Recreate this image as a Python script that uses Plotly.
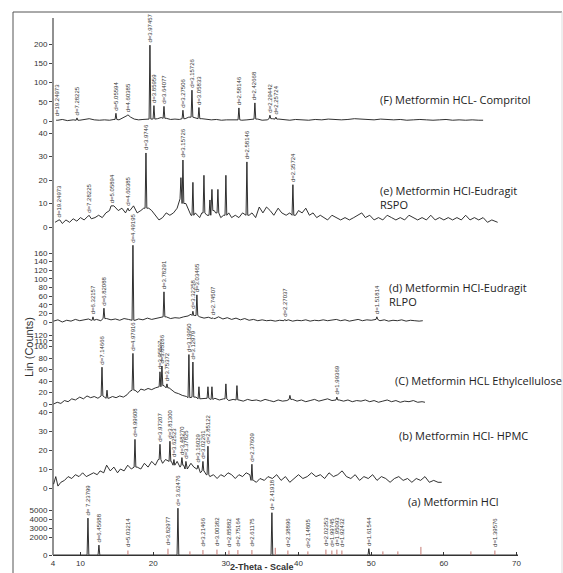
import plotly.graph_objects as go

# ---------------- data (2-theta, intensity) ----------------
# (F) Metformin HCL - Compritol
F_base = [(6.8,2),(7.5,4),(8.2,1),(9.0,3),(9.9,2),(10.6,4),(11.2,6),(11.9,3),(12.6,2),(13.3,3),
          (14.0,2),(14.6,4),(15.3,3),(15.9,8),(16.4,14),(16.9,10),(17.4,5),(18.0,3),(18.6,4),(19.2,6),
          (19.9,5),(20.6,6),(21.1,9),(21.8,7),(22.4,4),(23.0,5),(23.6,4),(24.4,6),(24.9,10),(25.8,8),
          (26.7,6),(27.3,4),(28.0,3),(28.7,4),(29.4,2),(30.1,3),(30.8,2),(31.4,3),(32.2,2),(32.9,3),
          (33.5,4),(34.4,5),(35.0,2),(35.7,3),(36.4,6),(37.3,5),(38.0,3),(38.8,2),(39.6,4),(40.5,3),
          (41.4,2),(42.3,4),(43.2,3),(44.1,5),(45.0,4),(45.9,3),(46.8,4),(47.7,6),(48.6,5),(49.5,4),
          (50.4,3),(51.3,5),(52.2,4),(53.1,3),(54.0,4),(54.9,2),(55.8,3),(56.7,4),(57.6,3),(58.5,2),
          (59.4,3),(60.3,4),(61.2,2),(62.1,3),(63.0,2),(63.9,3),(64.8,2),(65.4,2)]
F_peaks = [(6.77,3,"d=19.24973"),(9.52,8,"d=7.28225"),(14.88,20,"d=5.05594"),(16.53,16,"d=4.60385"),
           (19.56,197,"d=3.97457"),(20.11,40,"d=3.85959"),(21.49,38,"d=3.64077"),(24.10,28,"d=3.27506"),
           (25.34,80,"d=3.15726"),(26.30,35,"d=3.05833"),(31.80,34,"d=2.58146"),(34.00,47,"d=2.42668"),
           (36.07,15,"d=2.29442"),(36.89,10,"d=2.25724")]

# (e) Metformin HCl - Eudragit RSPO
E_base = [(6.5,2),(7.0,3),(7.5,1.5),(8.0,3),(8.5,2),(9.0,3.5),(9.5,2.5),(10.0,4),(10.5,3),(11.0,4.5),
          (11.5,3.5),(12.0,4),(12.5,5),(13.0,4),(13.5,6),(14.0,7),(14.6,9),(15.2,7),(15.7,8),(16.2,6),
          (16.8,7),(17.3,9),(17.8,6),(18.3,7),(18.7,8),(19.4,8),(19.8,7),(20.3,5),(20.8,3),(21.3,4),
          (21.8,6),(22.3,5),(22.8,6),(23.3,8),(23.6,12),(24.5,10),(24.9,7),(25.2,5),(25.8,6),(26.4,4),
          (26.7,6),(27.4,5),(28.4,7),(28.6,6),(29.3,4),(29.7,5),(30.4,6),(30.8,4),(31.3,5),(31.8,4),
          (32.3,6),(33.2,5),(33.6,6),(34.1,4),(34.6,8.5),(35.1,6),(35.6,8.5),(36.1,7),(36.6,5),(37.2,8),
          (37.7,6),(38.3,5),(38.8,6),(39.6,5),(40.0,7),(40.5,6),(41.0,8),(41.5,5),(42.0,6),(42.5,4),
          (43.0,5),(43.5,4),(44.0,3),(44.6,5),(45.2,4),(45.8,3),(46.4,4),(47.0,3),(47.6,4),(48.2,5),
          (48.7,6),(49.2,4),(49.8,5),(50.4,3),(51.0,4),(51.6,3),(52.2,5),(52.8,4),(53.4,3),(54.0,4),
          (54.6,3),(55.2,5),(55.8,4),(56.4,3),(57.0,4),(57.6,3),(58.2,5),(58.8,3),(59.4,4),(60.0,3),
          (60.6,4),(61.2,3),(61.8,4),(62.4,3),(63.0,5),(63.6,3),(64.2,4),(64.8,3),(65.4,4),(66.0,2),
          (66.6,3),(67.4,2)]
E_peaks = [(7.04,3,"d=19.24973"),(11.17,5,"d=7.28225"),(14.33,9,"d=5.05894"),(16.53,8,"d=4.60385"),
           (19.01,31.5,"d=3.9746"),(23.82,21,""),(24.10,28.5,"d=3.15726"),(25.47,19,""),(26.99,22,""),
           (27.81,11.5,""),(28.09,16,""),(28.91,16,""),(30.01,22,""),(32.90,27.7,"d=2.58146"),
           (39.23,18,"d=2.35724")]

# (d) Metformin HCl - Eudragit RLPO
D_base = [(6.3,2),(6.9,5),(7.5,0),(8.1,4),(8.7,2),(9.3,6),(9.9,3),(10.5,5),(11.1,7),(11.5,4),
          (12.2,6),(12.8,3),(13.6,8),(14.2,5),(14.8,7),(15.4,4),(16.0,8),(16.6,6),(17.5,4),(18.0,7),
          (18.6,5),(19.2,9),(19.8,6),(20.4,8),(21.0,10),(21.8,12),(22.4,8),(23.0,10),(23.6,9),(24.2,12),
          (24.8,14),(25.2,18),(25.7,15),(26.4,12),(27.0,9),(27.6,11),(28.5,8),(29.0,12),(29.6,7),(30.2,10),
          (30.8,6),(31.4,9),(32.0,5),(32.6,8),(33.2,4),(33.8,6),(34.4,3),(35.0,5),(35.6,3),(36.2,4),
          (36.8,2),(37.4,4),(38.0,3),(38.6,5),(39.2,2),(39.8,4),(40.4,3),(41.0,5),(41.6,2),(42.2,4),
          (42.8,3),(43.4,5),(44.0,3),(44.6,4),(45.2,6),(45.8,3),(46.4,5),(47.0,2),(47.6,4),(48.2,6),
          (48.8,3),(49.4,5),(50.0,4),(50.5,6),(51.2,3),(51.8,5),(52.4,2),(53.0,4),(53.6,3),(54.2,5),
          (54.8,2),(55.4,4),(56.0,3),(56.6,2),(57.1,3)]
D_peaks = [(11.72,12,"d=6.32157"),(13.23,32,"d=6.82088"),(17.22,178,"d=4.49195"),(21.49,70,"d=3.78291"),
           (25.47,25,"d=3.32258"),(26.02,63,"d=3.03465"),(28.23,10,"d=2.74507"),(38.13,6,"d=2.27037"),
           (50.78,12,"d=1.51814")]

# (C) Metformin HCL Ethylcellulose
C_base = [(6.3,0),(6.8,3),(7.3,1),(7.8,6),(8.3,4),(8.8,9),(9.3,7),(9.9,12),(10.4,9),(10.9,14),
          (11.4,11),(11.9,13),(12.4,10),(12.7,14),(13.3,12),(13.9,10),(14.4,13),(14.9,11),(15.4,14),(15.9,12),
          (16.4,16),(16.8,22),(17.5,24),(17.9,20),(18.3,26),(18.8,24),(19.3,27),(19.8,25),(20.3,28),(20.7,30),
          (21.5,32),(22.2,28),(22.6,24),(23.0,20),(23.5,18),(24.0,15),(24.6,13),(25.0,11),(25.9,12),(26.6,9),
          (27.2,10),(27.9,8),(28.5,10),(29.1,7),(29.7,9),(30.4,6),(31.0,8),(31.8,7),(32.4,5),(33.0,8),
          (33.6,6),(34.2,7),(34.8,5),(35.4,8),(36.0,6),(36.6,4),(37.2,7),(37.8,5),(38.4,6),(39.2,8),
          (39.8,5),(40.4,7),(41.0,4),(41.6,6),(42.2,8),(42.8,5),(43.4,7),(44.0,9),(44.6,6),(45.6,7),
          (46.2,5),(46.8,7),(47.4,4),(48.0,6),(48.6,5),(49.2,7),(49.8,4),(50.4,6),(51.0,3),(51.6,5),
          (52.2,7),(52.8,4),(53.4,6),(54.0,3),(54.6,5),(55.2,4),(55.8,6),(56.4,3),(57.0,4),(57.4,3)]
C_peaks = [(12.96,64,"d=7.14666"),(13.65,24,""),(17.22,88,"d=4.97916"),(20.94,56,"d=3.95537"),
           (21.21,66,"d=3.85186"),(21.90,35,"d=3.75372"),(24.92,86,"d=3.19950"),(25.47,73,"d=3.12979"),
           (26.30,30,""),(27.54,30,""),(28.09,30,""),(30.01,35,""),(31.53,32,""),(38.82,15,""),
           (45.28,12,"d=1.99369")]

# (b) Metformin HCl - HPMC
B_base = [(6.3,2),(6.6,6),(6.9,1),(7.3,3),(7.8,4),(8.3,6),(8.8,5),(9.3,7),(9.8,6),(10.3,8),
          (10.8,6),(11.3,7),(11.8,8),(12.3,7),(12.7,9),(13.2,8),(13.6,12),(14.1,9),(14.6,11),(15.1,8),
          (15.5,10),(16.0,9),(16.5,12),(17.0,10),(17.8,11),(18.3,10),(18.8,13),(19.3,11),(19.8,14),(20.3,12),
          (20.7,15),(21.3,13),(21.7,15),(22.5,14),(23.0,12),(23.3,14),(23.7,11),(24.2,12),(24.7,10),(25.2,13),
          (25.6,11),(26.0,10),(26.5,8),(27.0,9),(27.3,7),(27.8,6),(28.3,7),(28.8,5),(29.3,7),(29.8,6),
          (30.3,8),(30.8,7),(31.3,5),(31.8,7),(32.3,6),(32.8,8),(33.3,7),(33.8,4),(34.2,3),(34.7,5),
          (35.3,4),(35.8,6),(36.4,5),(37.0,7),(37.6,4),(38.2,6),(38.8,3),(39.4,5),(40.0,7),(40.6,5),
          (41.2,6),(41.8,8),(42.4,6),(43.0,7),(43.6,5),(44.2,8),(44.8,6),(45.4,7),(46.0,9),(46.6,6),
          (47.2,5),(47.8,7),(48.4,4),(49.0,6),(49.6,5),(50.2,7),(50.8,4),(51.4,6),(52.0,5),(52.6,3),
          (53.2,5),(53.8,6),(54.4,4),(55.0,5),(55.6,3),(56.2,5),(56.8,4),(57.4,6),(58.0,3),(58.6,4),
          (59.2,3),(59.7,3)]
B_peaks = [(17.50,25.6,"d=4.99608"),(20.94,23,"d=3.97207"),(22.31,24.6,"d=3.81300"),(22.86,15,"d=3.62523"),
           (23.96,16,"d=3.48270"),(24.51,14,"d=3.37825"),(26.16,12,"d=3.16029"),(26.85,14,"d=3.02261"),
           (27.54,22,"d=2.85122"),(33.59,12.5,"d=2.37609")]

# (a) Metformin HCl (reference pattern)
A_base = [(6.3,0),(70.2,0)]
A_peaks = [(11.03,4100,"d= 7.23799"),(12.54,1100,"d=6.45688"),(23.41,5200,"d= 3.62476"),
           (36.34,4700,"d= 2.41918"),(49.68,700,"d=1.61544")]
A_sticks = [(16.53,500,"d=5.03214"),(22.04,700,"d=3.82977"),(25.06,400,""),(26.85,550,"d=3.21466"),
            (28.78,600,"d=3.00382"),(30.43,500,"d=2.85882"),(31.66,550,"d=2.75164"),(33.59,550,"d=2.61175"),
            (36.80,800,""),(38.54,500,"d=2.38896"),(41.29,400,"d=2.14805"),(43.77,600,"d=2.02353"),
            (44.59,500,"d=1.99745"),(45.28,600,"d=1.95093"),(45.97,500,"d=1.92432"),(51.61,400,""),
            (53.67,400,""),(56.84,900,""),(63.72,400,""),(67.02,500,"d=1.39576")]

X_TICKS = [6.22, 10, 20, 30, 40, 50, 60, 70]
X_TICKTEXT = ["4", "10", "20", "30", "40", "50", "60", "70"]

TITLES = ["(F) Metformin HCL- Compritol", "(e) Metformin HCl-Eudragit<br>RSPO",
          "(d) Metformin HCl-Eudragit<br>RLPO", "(C) Metformin HCL Ethylcellulose",
          "(b) Metformin HCl- HPMC", "(a) Metformin HCl"]

# ---------------- layout geometry ----------------
W, H = 563, 573
ML, MR, MT, MB = 53, 45, 18, 18
PW, PH = W - ML - MR, H - MT - MB


def fx(px):
    return (px - ML) / PW


def fy(py):
    return (H - MB - py) / PH


HALF = 0.12


def build(base, peaks):
    pk = [p[0] for p in peaks]
    pts = [(x, y) for x, y in base if all(abs(x - p) > HALF for p in pk)]
    for x, h, _ in peaks:
        foot = min(base, key=lambda b: abs(b[0] - x))[1]
        pts += [(x - HALF, foot), (x, h), (x + HALF, foot)]
    pts.sort()
    return [p[0] for p in pts], [p[1] for p in pts]


# ref, base, peaks, top px, bottom px, zero px, px per unit, ticks
panels = [
    ("y", F_base, F_peaks, 18, 126, 121, 0.385, [0, 50, 100, 150, 200]),
    ("y2", E_base, E_peaks, 126, 232, 227, 2.35, [0, 10, 20, 30, 40]),
    ("y3", D_base, D_peaks, 232, 328, 322, 0.431, [0, 20, 40, 60, 80, 100, 120, 140, 160]),
    ("y4", C_base, C_peaks, 328, 408, 404, 0.575, [0, 20, 40, 60, 80, 100, 110, 120]),
    ("y5", B_base, B_peaks, 408, 492, 488, 1.9, [0, 10, 20, 30, 40]),
    ("y6", A_base, A_peaks, 492, 555, 555, 0.009, [0, 2000, 3000, 4000, 5000]),
]

fig = go.Figure()
annotations = []
LINE_COL = "#1a1a1a"
LAB_FONT = dict(size=6, family="Liberation Sans", color="#333")

layout_axes = {}
for ref, base, peaks, top, bot, zero, scale, ticks in panels:
    xs, ys = build(base, peaks)
    fig.add_trace(go.Scatter(x=xs, y=ys, mode="lines", xaxis="x", yaxis=ref,
                             line=dict(color=LINE_COL, width=0.9), hoverinfo="skip",
                             showlegend=False))
    name = "yaxis" if ref == "y" else "yaxis" + ref[1:]
    layout_axes[name] = dict(
        domain=[max(0, fy(bot)), min(1, fy(top))],
        range=[(zero - bot) / scale, (zero - top) / scale],
        anchor="x", showgrid=False, zeroline=False, showline=False, automargin=False,
        ticks="outside", ticklen=3, tickcolor="#444", tickwidth=1,
        tickvals=ticks, tickfont=dict(size=8, family="Liberation Sans", color="#333"),
    )
    for x, h, lab in peaks:
        if lab:
            annotations.append(dict(x=x, y=h, xref="x", yref=ref, text=lab, textangle=-90,
                                    showarrow=False, xanchor="center", yanchor="bottom",
                                    yshift=2, borderpad=0, font=LAB_FONT))

# red reference sticks of panel (a)
sx, sy = [], []
for x, h, lab in A_sticks:
    sx += [x, x, None]
    sy += [0, h, None]
    if lab:
        annotations.append(dict(x=x, y=h, xref="x", yref="y6", text=lab, textangle=-90,
                                showarrow=False, xanchor="center", yanchor="bottom",
                                yshift=3, borderpad=0, font=LAB_FONT))
fig.add_trace(go.Scatter(x=sx, y=sy, mode="lines", xaxis="x", yaxis="y6",
                         line=dict(color="#c47a74", width=1), hoverinfo="skip", showlegend=False))

# panel titles
title_pos = [(378, 100), (378, 197), (387, 294), (393, 380), (397, 435), (406, 502)]
for t, (px, py) in zip(TITLES, title_pos):
    annotations.append(dict(x=fx(px), y=fy(py), xref="paper", yref="paper", text=t, showarrow=False,
                            xanchor="left", yanchor="middle", align="left",
                            font=dict(size=11, family="Open Sans", color="#222")))

annotations.append(dict(x=fx(29), y=fy(347), xref="paper", yref="paper", text="Lin (Counts)",
                        textangle=-90, showarrow=False, xanchor="center", yanchor="middle",
                        font=dict(size=11, family="Liberation Sans", color="#333")))
annotations.append(dict(x=fx(262), y=fy(567), xref="paper", yref="paper", text="<b>2-Theta - Scale</b>",
                        showarrow=False, xanchor="center", yanchor="middle", borderpad=0,
                        font=dict(size=9, family="Liberation Sans", color="#333")))

shapes = [
    dict(type="line", xref="paper", yref="paper", x0=0, x1=0, y0=0, y1=1,
         line=dict(color="#222", width=1)),
    dict(type="line", xref="paper", yref="paper", x0=fx(13), x1=fx(562), y0=fy(12), y1=fy(12),
         line=dict(color="#555", width=1)),
    dict(type="line", xref="paper", yref="paper", x0=fx(13), x1=fx(13), y0=fy(12), y1=fy(580),
         line=dict(color="#555", width=1)),
    dict(type="line", xref="paper", yref="paper", x0=fx(562), x1=fx(562), y0=fy(12), y1=fy(580),
         line=dict(color="#ddd", width=1)),
]

fig.update_layout(
    width=W, height=H, margin=dict(l=ML, r=MR, t=MT, b=MB, autoexpand=False),
    paper_bgcolor="white", plot_bgcolor="white", showlegend=False,
    xaxis=dict(domain=[0, 1], range=[6.22, 70.2], anchor="y6", showline=True, linecolor="#333",
               linewidth=1, ticks="inside", ticklen=3, tickcolor="#333", tickvals=X_TICKS,
               ticktext=X_TICKTEXT, showgrid=False, zeroline=False, automargin=False,
               tickfont=dict(size=8, family="Liberation Sans", color="#333")),
    annotations=annotations, shapes=shapes,
    **layout_axes,
)

fig.write_html("out.html")
